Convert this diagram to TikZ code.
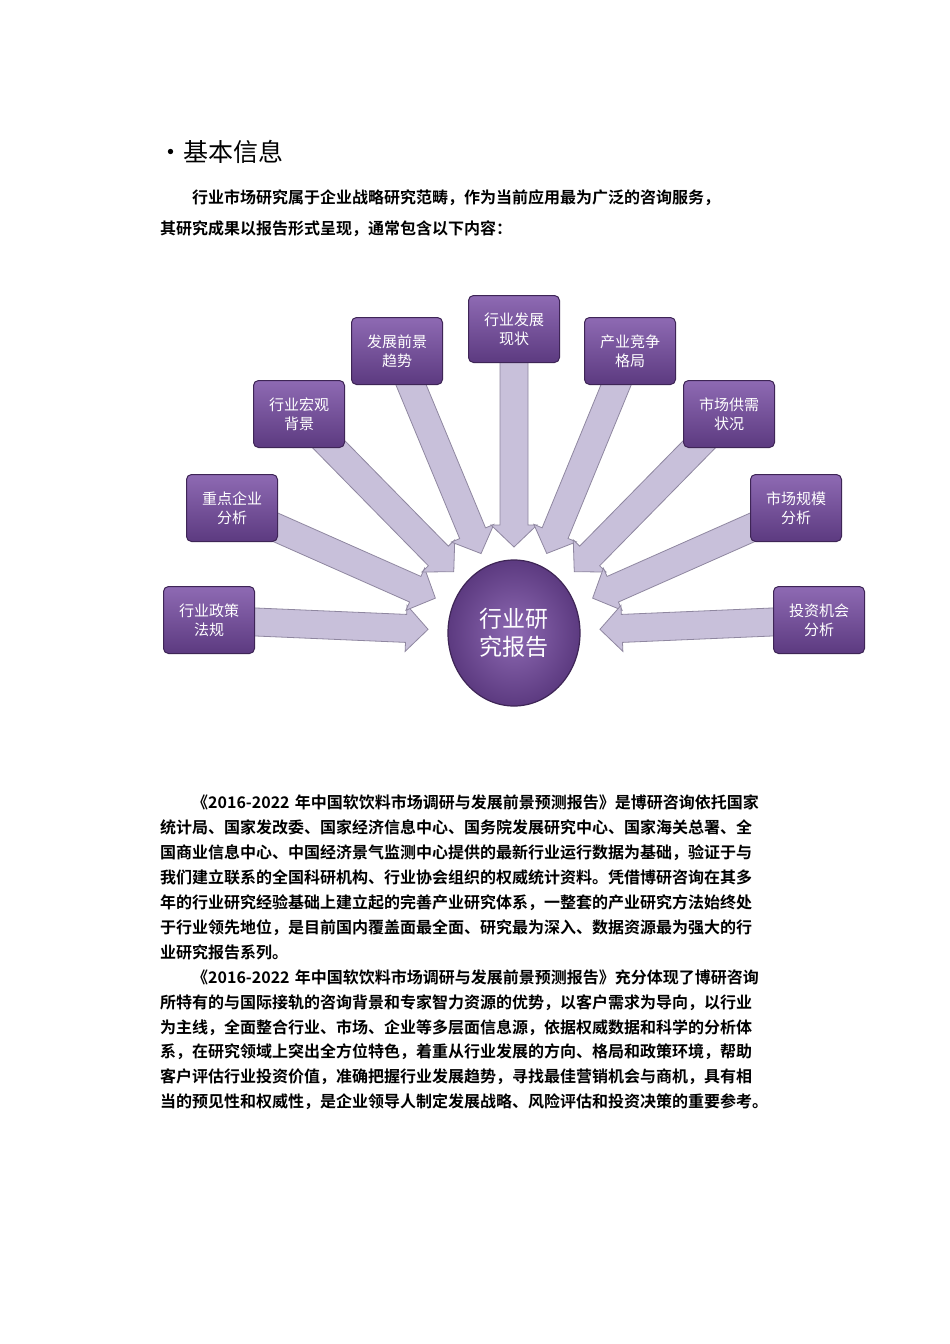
\documentclass[tikz,border=0pt]{standalone}
\usepackage{fontspec}
\setmainfont{Noto Sans CJK SC}
\newfontfamily\cjkb{Noto Sans CJK SC Bold}
\usetikzlibrary{calc,shapes.geometric}
\definecolor{boxfill}{HTML}{7A54A0}
\definecolor{boxtop}{HTML}{8E6AB3}
\definecolor{boxbot}{HTML}{5C3A80}
\definecolor{boxline}{HTML}{3E2556}
\definecolor{arrfill}{HTML}{C8C0DA}
\definecolor{arrline}{HTML}{8F87A0}
\tikzset{
  topic/.style={draw=boxline, line width=1pt, rounded corners=5pt, top color=boxtop, bottom color=boxbot,
    minimum width=91pt, minimum height=67pt, align=center, text=white, font=\fontsize{15}{19}\selectfont},
  hub/.style={ellipse, draw=boxline, line width=1.2pt, inner color=boxtop, outer color=boxbot,
    minimum width=132pt, minimum height=146pt, align=center, text=white, font=\fontsize{23}{28}\selectfont},
  bigarrow/.style={draw=arrline, fill=arrfill, line width=0.8pt},
  para/.style={anchor=north west, inner sep=0pt, align=left, text width=640pt}
}
\begin{document}
\begin{tikzpicture}[x=1pt,y=-1pt]
\useasboundingbox (0,0) rectangle (950,1344);
\fill[white] (0,0) rectangle (950,1344);
\node[anchor=west, inner sep=0pt, font=\fontsize{25}{30}\selectfont] (title) at (158,152) {•基本信息};
\node[para, font=\cjkb\fontsize{16}{31}\selectfont] (intro) at (160,190)
  {\hspace*{32pt}行业市场研究属于企业战略研究范畴，作为当前应用最为广泛的咨询服务，\\其研究成果以报告形式呈现，通常包含以下内容：};

\node[hub] (c) at (514,633) {行业研\\究报告};
\foreach \nm/\x/\y/\t in {a1/209/620/{行业政策\\法规}, a2/232/508/{重点企业\\分析}, a3/299/414/{行业宏观\\背景},
  a4/397/351/{发展前景\\趋势}, a5/514/329/{行业发展\\现状}, a6/630/351/{产业竞争\\格局},
  a7/729/414/{市场供需\\状况}, a8/796/508/{市场规模\\分析}, a9/819/620/{投资机会\\分析}}
{
  \coordinate (s\nm) at ($(\x,\y)!30pt!(c.center)$);
  \coordinate (e\nm) at ($(c.center)!86pt!(\x,\y)$);
  \draw[bigarrow] let \p1=(s\nm), \p2=(e\nm), \n1={atan2(\y2-\y1,\x2-\x1)}, \n2={veclen(\x2-\x1,\y2-\y1)} in
    [shift={(\p1)}, rotate=\n1] (0pt,-14pt) -- (\n2-22pt,-14pt) -- (\n2-22pt,-23pt) -- (\n2,0pt)
    -- (\n2-22pt,23pt) -- (\n2-22pt,14pt) -- (0pt,14pt) -- cycle;
  \node[topic] (\nm) at (\x,\y) {\t};
}

\node[para, font=\cjkb\fontsize{16}{24.9}\selectfont] (p1) at (160,795)
  {\hspace*{32pt}《2016-2022 年中国软饮料市场调研与发展前景预测报告》是博研咨询依托国家\\
统计局、国家发改委、国家经济信息中心、国务院发展研究中心、国家海关总署、全\\
国商业信息中心、中国经济景气监测中心提供的最新行业运行数据为基础，验证于与\\
我们建立联系的全国科研机构、行业协会组织的权威统计资料。凭借博研咨询在其多\\
年的行业研究经验基础上建立起的完善产业研究体系，一整套的产业研究方法始终处\\
于行业领先地位，是目前国内覆盖面最全面、研究最为深入、数据资源最为强大的行\\
业研究报告系列。\\
\hspace*{32pt}《2016-2022 年中国软饮料市场调研与发展前景预测报告》充分体现了博研咨询\\
所特有的与国际接轨的咨询背景和专家智力资源的优势，以客户需求为导向，以行业\\
为主线，全面整合行业、市场、企业等多层面信息源，依据权威数据和科学的分析体\\
系，在研究领域上突出全方位特色，着重从行业发展的方向、格局和政策环境，帮助\\
客户评估行业投资价值，准确把握行业发展趋势，寻找最佳营销机会与商机，具有相\\
当的预见性和权威性，是企业领导人制定发展战略、风险评估和投资决策的重要参考。};
\end{tikzpicture}
\end{document}
